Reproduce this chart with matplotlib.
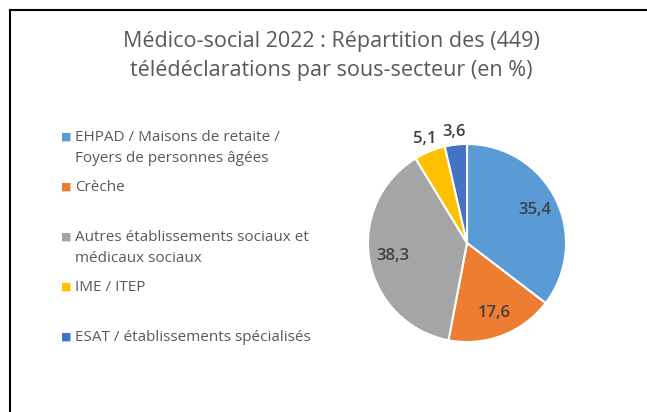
import matplotlib
matplotlib.use("Agg")
import matplotlib.pyplot as plt
from matplotlib.lines import Line2D
import numpy as np

plt.rcParams['font.family'] = ['Open Sans', 'DejaVu Sans']

TITLE = "Médico-social 2022 : Répartition des (449)\ntélédéclarations par sous-secteur (en %)"
LABELS = ["EHPAD / Maisons de retaite /\nFoyers de personnes âgées",
          "Crèche",
          "Autres établissements sociaux et\nmédicaux sociaux",
          "IME / ITEP",
          "ESAT / établissements spécialisés"]
VALUES = [35.4, 17.6, 38.3, 5.1, 3.6]
COLORS = ["#5B9BD5", "#ED7D31", "#A5A5A5", "#FFC000", "#4472C4"]

W, H = 647, 412
fig = plt.figure(figsize=(W / 100, H / 100), dpi=100)

# frame (left + top lines)
fig.add_artist(Line2D([10 / W, 10 / W], [0, 1 - 10 / H], color="black", lw=1.5, transform=fig.transFigure))
fig.add_artist(Line2D([10 / W, 1], [1 - 10 / H, 1 - 10 / H], color="black", lw=1.5, transform=fig.transFigure))

fig.text(331 / W, 1 - 56 / H, TITLE, ha="center", va="center", fontsize=15.5,
         color="#595959", linespacing=1.5)

# pie
r = 99
cx, cy = 467, 243
size = 2.5 * r
ax = fig.add_axes([(cx - size / 2) / W, (H - cy - size / 2) / H, size / W, size / H])
wedges, _ = ax.pie(VALUES, colors=COLORS, startangle=90, counterclock=False,
                   wedgeprops=dict(edgecolor="white", linewidth=1.5))
ax.set_xlim(-1.25, 1.25)
ax.set_ylim(-1.25, 1.25)
ax.set_aspect("equal")

for w, v in zip(wedges, VALUES):
    mid = np.deg2rad((w.theta1 + w.theta2) / 2)
    dist = 0.76 if v > 10 else 1.13
    ax.text(dist * np.cos(mid), dist * np.sin(mid), f"{v:.1f}".replace(".", ","),
            ha="center", va="center", fontsize=12, fontweight="semibold", color="#404040")

# legend
for i, (lab, col) in enumerate(zip(LABELS, COLORS)):
    y = 137 + 50 * i
    fig.text(61 / W, 1 - y / H, "\u25A0", color=col, fontsize=8, ha="left", va="center",
             family="DejaVu Sans")
    fig.text(75 / W, 1 - (y - 7) / H, lab, color="#595959", fontsize=11, ha="left",
             va="top", linespacing=1.55)

fig.savefig("out.png", dpi=100)
